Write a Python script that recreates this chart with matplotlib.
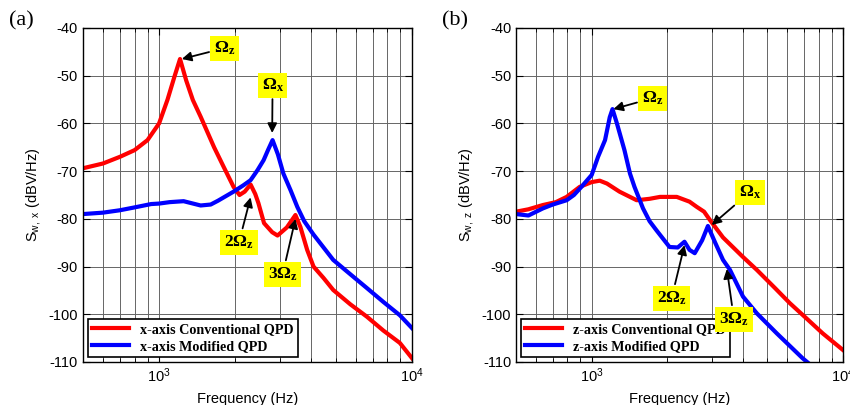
import matplotlib
matplotlib.use('Agg')
import matplotlib.pyplot as plt
from matplotlib.ticker import LogLocator, NullFormatter, MultipleLocator

plt.rcParams['font.family'] = ['Liberation Sans', 'DejaVu Sans']
plt.rcParams['mathtext.fontset'] = 'custom'
plt.rcParams['mathtext.rm'] = 'Liberation Sans'
plt.rcParams['mathtext.it'] = 'Liberation Sans:italic'
plt.rcParams['mathtext.bf'] = 'Liberation Serif:bold'
plt.rcParams['axes.unicode_minus'] = False

# (a) x-axis PSD
a_red_f = [500, 600, 700, 800, 900, 1000, 1080, 1150, 1210, 1280, 1360, 1460, 1650, 1800,
           1970, 2080, 2180, 2300, 2400, 2470, 2600, 2800, 2940, 3200, 3460, 3620, 3850,
           4080, 4470, 4880, 5700, 6630, 7700, 8950, 10000]
a_red_db = [-69.4, -68.4, -67.0, -65.6, -63.5, -60.0, -55.0, -50.2, -46.5, -51.0, -55.1, -58.6,
            -65.0, -69.1, -73.3, -75.0, -74.3, -72.8, -74.8, -76.7, -80.9, -82.8, -83.5, -81.8,
            -79.2, -81.7, -86.5, -90.0, -92.4, -94.9, -97.9, -100.5, -103.4, -106.0, -109.2]
a_blue_f = [500, 600, 700, 800, 930, 1000, 1100, 1250, 1460, 1600, 1710, 1970, 2150, 2300,
            2450, 2590, 2700, 2810, 2950, 3100, 3310, 3520, 3750, 4080, 4880, 5700, 6630,
            7700, 8950, 10000]
a_blue_db = [-79.0, -78.7, -78.2, -77.6, -76.9, -76.8, -76.5, -76.3, -77.2, -77.0, -76.2, -74.3,
             -73.0, -71.9, -69.8, -67.7, -65.5, -63.5, -66.5, -70.5, -74.0, -77.5, -80.5, -83.3,
             -88.6, -91.6, -94.5, -97.4, -100.2, -102.9]

# (b) z-axis PSD
b_red_f = [500, 560, 640, 720, 795, 896, 1000, 1076, 1150, 1290, 1510, 1700, 1870, 2180, 2450,
           2620, 2800, 2950, 3330, 4000, 4540, 5360, 6150, 7200, 8300, 10000]
b_red_db = [-78.5, -78.0, -77.1, -76.5, -75.4, -73.3, -72.3, -72.0, -72.6, -74.3, -76.1, -75.8,
            -75.4, -75.4, -76.4, -77.5, -78.5, -80.2, -83.9, -88.0, -90.7, -94.5, -97.7, -101.0,
            -104.0, -107.5]
b_blue_f = [500, 560, 640, 700, 795, 850, 910, 1000, 1060, 1130, 1180, 1210, 1260, 1350, 1420,
            1480, 1600, 1700, 1810, 2040, 2200, 2340, 2450, 2570, 2750, 2900, 3100, 3330, 3550,
            4000, 4540, 5450, 6900, 7500]
b_blue_db = [-79.0, -79.3, -77.8, -77.0, -76.1, -75.0, -73.3, -70.8, -67.0, -63.5, -58.7, -57.0,
             -60.0, -65.6, -70.5, -73.3, -77.8, -80.5, -82.4, -85.9, -86.0, -84.8, -86.5, -87.2,
             -84.5, -81.5, -85.0, -88.6, -90.7, -96.3, -99.8, -104.0, -109.2, -110.8]

# annotations: label, text position, arrow target
a_notes = [(r'$\mathbf{\Omega_z}$', (1820, -44.2), (1230, -46.5)),
           (r'$\mathbf{\Omega_x}$', (2810, -52.0), (2800, -62.0)),
           (r'$\mathbf{2\Omega_z}$', (2070, -84.9), (2300, -75.5)),
           (r'$\mathbf{3\Omega_z}$', (3080, -91.6), (3460, -80.0))]
b_notes = [(r'$\mathbf{\Omega_z}$', (1750, -54.7), (1220, -57.0)),
           (r'$\mathbf{\Omega_x}$', (4260, -74.4), (3000, -81.3)),
           (r'$\mathbf{2\Omega_z}$', (2080, -96.6), (2340, -85.5)),
           (r'$\mathbf{3\Omega_z}$', (3680, -101.0), (3450, -90.5))]

fig = plt.figure(figsize=(8.5, 4.05), dpi=100)
ax1 = fig.add_axes([0.0976, 0.1062, 0.3871, 0.8247])
ax2 = fig.add_axes([0.6071, 0.1062, 0.3847, 0.8247])

panels = [(ax1, a_red_f, a_red_db, a_blue_f, a_blue_db, 'x-axis', r'$\mathregular{S_{w,\ x}}$ (dBV/Hz)', a_notes, '(a)'),
          (ax2, b_red_f, b_red_db, b_blue_f, b_blue_db, 'z-axis', r'$\mathregular{S_{w,\ z}}$ (dBV/Hz)', b_notes, '(b)')]

for ax, rf, rd, bf, bd, axname, ylab, notes, tag in panels:
    ax.plot(rf, rd, color='#ff0000', lw=3.0, label=axname + ' Conventional QPD', solid_joinstyle='round')
    ax.plot(bf, bd, color='#0000ff', lw=3.0, label=axname + ' Modified QPD', solid_joinstyle='round')
    ax.set_xscale('log')
    ax.set_xlim(500, 10000)
    ax.set_ylim(-110, -40)
    ax.yaxis.set_major_locator(MultipleLocator(10))
    ax.xaxis.set_minor_locator(LogLocator(base=10, subs=range(2, 10)))
    ax.xaxis.set_minor_formatter(NullFormatter())
    ax.grid(True, which='both', color='#666666', lw=0.7)
    ax.tick_params(which='both', direction='in', top=True, right=True, labelsize=10.5)
    ax.tick_params(which='major', length=5)
    ax.tick_params(which='minor', length=3)
    for s in ax.spines.values():
        s.set_linewidth(1.0)
    ax.set_xlabel('Frequency (Hz)', fontsize=10.5, labelpad=5)
    ax.set_ylabel(ylab, fontsize=10.5, labelpad=4)
    leg = ax.legend(loc='lower left', fancybox=False, edgecolor='black', framealpha=1,
                    prop={'family': 'Liberation Serif', 'weight': 'bold', 'size': 10.2},
                    handlelength=2.6, borderaxespad=0.35, borderpad=0.3, labelspacing=0.25)
    leg.get_frame().set_linewidth(1.2)
    for txt, xyt, xy in notes:
        ax.annotate(txt, xy=xy, xytext=xyt, ha='center', va='center', fontsize=12.5, zorder=10,
                    bbox=dict(boxstyle='square,pad=0.22', fc='#ffff00', ec='none'),
                    arrowprops=dict(arrowstyle='-|>', color='black', lw=1.3, mutation_scale=14,
                                    shrinkA=1, shrinkB=0))
    ax.text(-0.225, 1.02, tag, transform=ax.transAxes, fontsize=16, family='Liberation Serif',
            ha='left', va='center')

fig.savefig('out.png', dpi=100)
